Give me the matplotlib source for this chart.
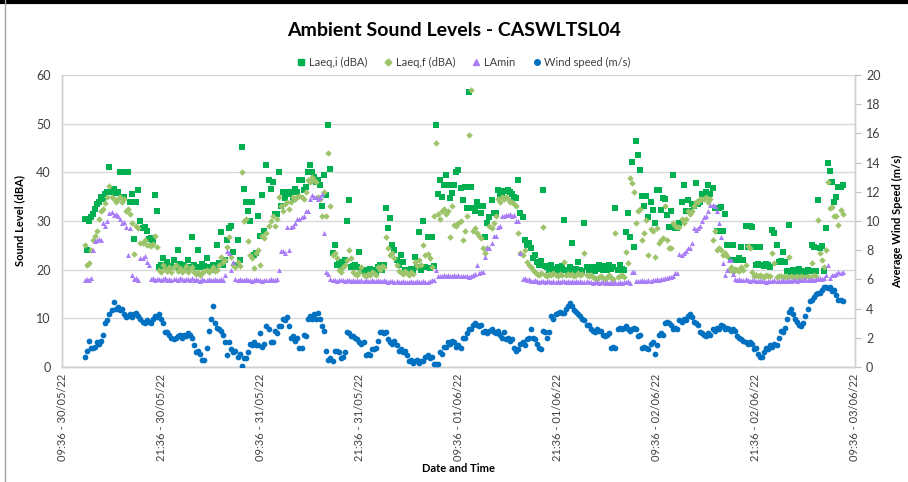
import matplotlib
matplotlib.use("Agg")
import matplotlib.pyplot as plt
from matplotlib.lines import Line2D
import numpy as np

plt.rcParams['font.family'] = ['Lato', 'DejaVu Sans']

# ---- data (15-minute samples, first sample ~12:21 30/05/22) ----
start_hours = 2.75          # hours after 09:36 30/05/22
step_hours = 0.25

laeq_i = [
    30.5, 24.0, 30.0, 30.8, 31.5, 32.5, 33.5, 34.0, 35.0, 34.5, 35.5, 36.0, 41.0, 36.0, 36.5, 35.8, 36.0, 40.0, 40.0, 35.0, 40.0, 40.0, 34.0, 35.5,
    26.4, 34.0, 36.4, 30.0, 28.5, 28.8, 28.0, 26.4, 26.5, 26.0, 35.4, 32.0, 20.5, 21.0, 22.3, 20.8, 21.5, 20.5, 20.8, 22.0, 20.6, 24.0, 21.2, 20.8,
    21.0, 20.5, 22.0, 20.6, 26.8, 21.0, 20.5, 24.0, 20.6, 21.2, 20.8, 22.3, 20.6, 20.0, 21.0, 20.5, 25.0, 21.3, 27.8, 21.0, 22.0, 26.0, 28.5, 29.0,
    23.7, 21.0, 26.0, 22.0, 45.2, 36.5, 34.0, 32.0, 30.0, 34.0, 23.0, 23.5, 31.0, 27.0, 35.4, 28.0, 41.5, 38.5, 36.5, 38.0, 31.5, 31.5, 40.0, 33.0,
    36.0, 34.7, 36.0, 35.5, 36.0, 34.5, 36.5, 36.0, 38.5, 38.5, 36.4, 37.0, 40.0, 41.5, 40.0, 39.0, 38.0, 38.5, 37.5, 33.0, 39.5, 35.4, 49.8, 40.7,
    23.4, 25.0, 21.0, 21.5, 20.5, 20.8, 22.0, 29.9, 34.3, 20.5, 20.8, 21.0, 20.5, 23.7, 20.0, 19.8, 20.0, 19.5, 20.2, 19.8, 20.0, 19.6, 20.5, 21.0,
    20.0, 21.0, 32.6, 28.5, 30.6, 25.0, 24.0, 22.0, 21.0, 23.0, 21.5, 20.0, 20.0, 19.8, 20.2, 20.0, 22.7, 20.5, 27.8, 20.0, 29.9, 20.6, 26.8, 20.4,
    26.8, 20.8, 49.8, 35.5, 38.5, 35.0, 37.5, 39.5, 37.5, 34.7, 35.7, 37.5, 40.0, 40.5, 36.7, 34.3, 37.0, 32.6, 56.6, 37.0, 32.6, 32.0, 34.0, 33.0,
    31.6, 33.0, 26.8, 29.5, 30.9, 34.3, 31.6, 31.6, 36.4, 35.3, 35.0, 36.2, 36.2, 36.4, 36.0, 35.5, 35.0, 34.8, 38.4, 31.6, 30.9, 26.1, 25.0, 25.5,
    24.5, 22.5, 23.0, 21.5, 21.0, 21.8, 36.4, 20.8, 20.5, 20.0, 21.0, 20.2, 19.8, 20.5, 20.0, 20.8, 30.2, 20.0, 19.8, 20.5, 25.4, 19.8, 20.2, 21.6,
    20.0, 19.8, 29.5, 20.5, 20.0, 20.5, 20.2, 19.8, 20.5, 21.0, 20.2, 20.0, 20.8, 20.0, 21.0, 20.2, 20.5, 32.6, 20.0, 21.0, 20.2, 20.0, 27.8, 31.6,
    26.8, 42.2, 24.7, 46.4, 43.6, 40.5, 35.2, 33.0, 35.2, 30.9, 34.0, 32.3, 29.5, 36.3, 36.3, 32.3, 34.7, 34.5, 31.3, 28.8, 32.0, 39.4, 28.6, 28.6,
    29.5, 34.0, 37.4, 32.0, 34.4, 32.0, 33.5, 33.0, 37.8, 33.5, 34.0, 35.5, 35.5, 36.0, 37.4, 35.5, 36.7, 32.6, 28.0, 32.6, 32.8, 28.0, 31.5, 25.0,
    25.0, 22.0, 25.0, 22.0, 22.0, 22.3, 24.7, 22.0, 29.0, 24.7, 29.0, 28.8, 24.7, 21.0, 21.2, 24.7, 21.0, 20.8, 21.2, 21.0, 20.6, 28.2, 27.5, 25.1,
    21.6, 21.8, 23.7, 21.5, 19.8, 29.2, 19.6, 20.0, 19.6, 19.8, 20.2, 19.5, 19.8, 19.6, 20.0, 19.7, 25.1, 24.7, 19.8, 34.3, 24.5, 24.8, 19.8, 28.5,
    41.9, 40.2, 38.0, 34.0, 35.0, 37.0, 37.0, 37.5,
]

laeq_f = [
    25.0, 21.0, 21.3, 24.0, 26.0, 27.0, 28.0, 30.5, 32.0, 32.5, 33.6, 35.0, 37.2, 35.0, 34.5, 34.0, 34.5, 35.0, 34.0, 34.5, 32.0, 32.5, 31.5, 29.5,
    23.3, 29.0, 28.5, 25.5, 25.5, 26.0, 25.0, 25.0, 24.8, 25.2, 27.0, 24.7, 20.0, 19.5, 21.0, 20.2, 19.8, 20.5, 19.5, 20.5, 21.0, 19.8, 20.3, 19.5,
    20.0, 20.8, 19.6, 20.2, 20.5, 19.6, 19.2, 19.5, 19.0, 19.3, 19.8, 20.0, 19.5, 20.0, 20.5, 19.8, 20.0, 21.0, 22.7, 21.5, 22.0, 24.7, 26.8, 22.7,
    21.0, 20.5, 21.5, 20.8, 40.0, 30.0, 30.5, 25.8, 23.0, 22.5, 20.3, 23.5, 24.0, 21.0, 27.0, 26.5, 27.5, 29.0, 30.0, 31.0, 29.0, 30.5, 35.0, 33.0,
    32.0, 33.5, 34.0, 32.5, 34.0, 35.0, 34.5, 35.0, 35.2, 35.0, 34.5, 36.0, 38.5, 38.0, 39.0, 38.5, 38.0, 35.0, 34.5, 31.0, 36.0, 31.0, 44.0, 33.0,
    23.0, 23.5, 22.5, 20.0, 19.5, 20.5, 21.0, 22.0, 24.0, 22.5, 19.5, 19.2, 19.0, 19.5, 20.5, 19.0, 18.8, 19.2, 19.0, 19.5, 19.3, 19.0, 20.5, 20.0,
    20.8, 20.5, 26.8, 24.4, 23.0, 23.5, 22.5, 21.0, 19.8, 19.5, 19.2, 19.8, 19.4, 19.0, 19.6, 19.2, 21.5, 20.8, 22.0, 21.0, 25.0, 23.0, 23.2, 22.5,
    20.5, 31.0, 46.0, 31.5, 30.5, 32.0, 32.5, 31.5, 32.0, 26.8, 33.0, 29.2, 29.0, 29.5, 30.0, 26.0, 28.0, 31.0, 47.7, 57.0, 28.0, 28.5, 27.5, 27.0,
    26.5, 24.5, 23.4, 24.5, 29.0, 28.5, 29.5, 31.0, 34.5, 34.0, 35.0, 34.5, 35.0, 34.5, 34.0, 34.0, 33.5, 33.0, 27.5, 23.5, 23.0, 24.0, 21.5, 21.0,
    20.5, 20.0, 19.5, 19.2, 19.0, 19.4, 28.8, 19.0, 18.8, 19.2, 19.0, 19.4, 19.0, 18.8, 19.2, 19.0, 21.6, 19.0, 19.2, 18.9, 19.1, 18.8, 19.0, 19.3,
    19.0, 19.2, 23.4, 19.0, 18.8, 19.0, 18.5, 18.2, 18.0, 18.5, 18.8, 18.2, 18.0, 18.4, 19.0, 18.2, 18.0, 27.5, 18.5, 18.8, 19.0, 18.5, 23.7, 21.3,
    38.8, 37.8, 36.0, 29.5, 32.0, 32.5, 26.0, 27.5, 30.2, 23.0, 28.3, 28.0, 22.7, 28.5, 25.4, 26.0, 26.5, 33.0, 26.0, 24.5, 24.5, 29.5, 29.0, 28.8,
    28.8, 30.5, 29.5, 30.5, 32.0, 31.5, 32.0, 33.0, 34.0, 34.0, 34.5, 34.5, 34.5, 35.0, 34.0, 34.5, 26.0, 28.0, 24.0, 24.5, 24.0, 23.0, 23.5, 22.8,
    20.0, 20.5, 19.5, 20.2, 20.0, 19.8, 20.5, 20.0, 21.0, 24.8, 24.5, 19.5, 18.8, 19.0, 18.6, 18.9, 18.8, 18.5, 19.0, 18.7, 18.8, 23.4, 21.3, 18.5,
    18.6, 18.8, 18.4, 18.7, 18.5, 22.7, 18.6, 18.4, 18.5, 18.7, 18.3, 18.6, 18.5, 18.4, 18.7, 18.5, 21.3, 19.0, 18.8, 30.2, 23.5, 22.0, 20.6, 24.0,
    38.1, 32.6, 32.8, 31.0, 31.0, 29.2, 32.3, 31.5,
]

la_min = [
    17.9, 18.0, 17.8, 18.2, 24.0, 25.8, 26.0, 26.2, 26.0, 29.5, 29.0, 30.0, 31.6, 31.8, 31.2, 31.5, 31.0, 30.5, 29.5, 29.8, 28.8, 23.0, 28.5, 19.0,
    18.0, 18.2, 17.9, 22.5, 22.5, 22.8, 21.5, 21.0, 18.0, 18.2, 17.9, 18.0, 18.1, 17.8, 18.0, 18.2, 17.9, 18.0, 17.8, 18.1, 18.0, 17.9, 18.2, 18.0,
    17.8, 18.0, 18.1, 17.9, 18.2, 17.8, 18.0, 17.9, 17.7, 18.0, 17.8, 17.9, 18.1, 17.8, 17.9, 18.0, 17.8, 17.9, 18.0, 17.8, 18.9, 23.8, 23.5, 20.0,
    21.5, 18.0, 17.9, 18.1, 17.8, 17.9, 18.0, 17.8, 17.9, 17.7, 17.8, 18.0, 17.9, 17.8, 17.7, 17.9, 17.8, 17.9, 18.0, 17.8, 17.8, 18.0, 20.0, 23.8,
    23.8, 23.5, 28.8, 24.0, 28.8, 29.0, 29.5, 30.5, 30.5, 30.8, 31.0, 32.0, 32.0, 34.5, 35.4, 35.0, 35.0, 34.5, 35.0, 35.5, 27.5, 19.5, 19.2, 18.0,
    17.8, 17.9, 17.7, 17.8, 17.9, 17.8, 17.6, 17.8, 17.9, 17.7, 17.8, 17.6, 17.8, 17.7, 17.9, 17.6, 17.8, 17.7, 17.6, 17.8, 17.7, 17.6, 17.8, 17.7,
    17.6, 17.8, 17.7, 17.5, 17.7, 17.6, 17.5, 17.6, 17.5, 17.4, 17.6, 17.5, 17.4, 17.5, 17.6, 17.4, 17.5, 17.6, 17.4, 17.5, 17.6, 17.5, 17.4, 17.6,
    17.8, 17.9, 20.0, 18.8, 18.6, 18.8, 19.0, 18.7, 18.9, 18.6, 18.8, 19.0, 18.7, 18.9, 18.6, 18.8, 18.6, 18.8, 18.5, 18.7, 19.0, 19.2, 21.0, 19.3,
    19.5, 19.6, 22.7, 24.5, 24.5, 25.5, 27.0, 27.0, 28.8, 29.0, 31.0, 31.0, 31.2, 31.3, 31.5, 31.0, 31.3, 30.0, 30.0, 23.4, 18.0, 18.2, 17.8, 18.0,
    17.7, 17.6, 17.8, 17.6, 17.5, 17.7, 17.6, 17.5, 17.6, 17.7, 17.5, 17.6, 17.4, 17.6, 17.5, 17.7, 17.6, 17.5, 17.6, 17.4, 17.6, 17.5, 17.7, 17.5,
    17.6, 17.5, 17.4, 17.6, 17.5, 17.4, 17.3, 17.5, 17.4, 17.3, 17.5, 17.4, 17.3, 17.4, 17.2, 17.4, 17.3, 17.5, 17.3, 17.4, 17.3, 17.5, 17.4, 17.6,
    17.3, 19.5, 19.5, 17.7, 17.6, 17.7, 17.8, 17.6, 17.7, 17.8, 17.7, 17.9, 17.8, 18.0, 17.9, 18.1, 18.0, 18.2, 18.3, 18.4, 18.5, 18.6, 19.4, 19.4,
    23.3, 23.0, 23.5, 23.8, 24.4, 24.5, 25.4, 28.5, 28.2, 28.5, 29.0, 30.0, 30.9, 31.0, 32.0, 33.2, 33.2, 33.0, 32.0, 29.5, 26.8, 21.3, 19.0, 20.0,
    22.0, 22.0, 19.2, 18.0, 17.9, 18.0, 17.8, 17.9, 18.0, 17.8, 17.7, 17.9, 17.8, 17.7, 17.6, 17.8, 17.7, 17.6, 17.5, 17.7, 17.6, 17.7, 17.8, 17.6,
    17.7, 17.6, 17.8, 17.7, 17.6, 17.8, 17.7, 17.9, 17.8, 17.7, 17.9, 17.8, 17.9, 18.0, 17.8, 17.9, 18.0, 17.9, 18.1, 18.0, 18.2, 18.1, 18.3, 18.9,
    21.0, 18.2, 19.0, 19.0, 19.2, 19.5, 19.3, 19.6,
]

wind = [
    0.7, 1.1, 1.8, 1.3, 1.3, 1.4, 1.7, 1.6, 1.8, 2.2, 3.0, 3.2, 3.6, 3.9, 4.45, 4.0, 4.1, 3.9, 4.0, 3.6, 3.4, 3.5, 3.6, 3.4,
    3.6, 3.7, 3.5, 3.3, 3.1, 3.0, 3.2, 3.1, 3.0, 3.3, 3.5, 3.4, 3.6, 3.3, 3.0, 2.4, 2.4, 2.2, 2.0, 1.9, 2.0, 2.1, 2.2, 2.0,
    2.2, 2.1, 2.3, 2.2, 2.0, 1.5, 1.0, 1.1, 0.9, 0.5, 0.5, 1.3, 2.5, 3.3, 4.2, 3.0, 2.7, 2.6, 2.5, 2.2, 1.7, 0.8, 1.7, 1.2,
    1.0, 1.1, 0.7, 0.9, 0.1, 0.6, 0.6, 1.0, 1.6, 1.5, 1.7, 1.5, 1.5, 2.3, 1.4, 1.6, 2.8, 2.6, 1.7, 1.7, 2.5, 2.3, 2.8, 2.8,
    3.3, 3.2, 3.4, 2.8, 2.0, 2.1, 1.8, 2.0, 1.3, 1.3, 2.2, 2.1, 3.3, 3.5, 3.3, 3.6, 3.3, 3.7, 3.3, 2.8, 2.5, 1.1, 0.5, 0.6,
    0.4, 1.1, 1.1, 1.0, 0.6, 0.7, 1.0, 2.4, 2.3, 2.1, 2.1, 2.0, 1.9, 1.7, 1.6, 1.7, 0.8, 0.9, 0.8, 1.2, 1.2, 1.3, 1.8, 2.4,
    2.4, 2.3, 2.4, 1.9, 1.7, 1.6, 1.8, 1.5, 1.1, 1.2, 1.0, 1.1, 0.8, 0.4, 0.5, 0.3, 0.4, 0.5, 0.3, 0.4, 0.4, 0.7, 0.8, 0.6,
    0.7, 0.2, 0.2, 0.2, 1.0, 0.9, 1.4, 1.4, 1.7, 1.6, 1.8, 1.7, 1.4, 1.5, 1.3, 2.0, 2.0, 2.3, 2.6, 2.6, 2.9, 3.0, 2.9, 2.8,
    2.9, 2.4, 2.5, 2.3, 2.5, 2.6, 2.4, 2.3, 2.5, 2.2, 2.0, 2.4, 1.9, 2.0, 1.8, 1.9, 1.3, 1.1, 1.2, 1.6, 1.7, 1.5, 1.9, 2.0,
    2.6, 2.0, 1.9, 1.6, 1.3, 1.2, 2.5, 2.4, 2.0, 2.4, 3.5, 3.3, 3.6, 3.7, 3.8, 3.7, 3.7, 4.0, 4.2, 4.4, 4.2, 3.9, 3.8, 3.6,
    3.5, 3.3, 3.2, 2.9, 2.9, 2.6, 2.5, 2.4, 2.6, 2.5, 2.5, 2.2, 2.1, 2.2, 2.3, 1.3, 1.4, 1.3, 2.6, 2.7, 2.6, 2.7, 2.8, 2.6,
    2.5, 2.6, 2.7, 2.6, 2.1, 2.2, 1.3, 1.4, 1.3, 1.2, 1.6, 1.7, 0.9, 1.5, 2.2, 2.3, 2.2, 3.0, 3.1, 3.0, 2.9, 2.6, 2.7, 2.6,
    3.2, 3.1, 3.3, 3.2, 3.5, 3.6, 3.4, 3.1, 3.0, 2.9, 2.4, 2.3, 2.2, 2.1, 2.3, 2.2, 2.6, 2.5, 2.7, 2.6, 2.9, 2.8, 2.6, 2.7,
    2.6, 2.5, 2.6, 2.5, 2.1, 2.0, 1.9, 1.8, 1.7, 1.6, 1.7, 1.6, 1.2, 1.3, 0.9, 0.7, 0.7, 1.0, 1.3, 1.2, 1.5, 1.4, 1.6, 1.5,
    2.0, 2.5, 2.4, 2.7, 3.3, 3.8, 4.0, 3.6, 3.3, 3.1, 2.9, 2.8, 3.0, 3.5, 4.0, 4.5, 4.6, 4.8, 5.0, 5.1, 5.1, 5.3, 5.5, 5.5,
    5.4, 5.5, 5.2, 5.3, 4.9, 4.6, 4.6, 4.5,
]

tick_labels = [
    "09:36 - 30/05/22", "21:36 - 30/05/22", "09:36 - 31/05/22", "21:36 - 31/05/22",
    "09:36 - 01/06/22", "21:36 - 01/06/22", "09:36 - 02/06/22", "21:36 - 02/06/22",
    "09:36 - 03/06/22",
]
tick_hours = [0, 12, 24, 36, 48, 60, 72, 84, 96]


def times(series):
    return start_hours + step_hours * np.arange(len(series))


fig = plt.figure(figsize=(9.08, 4.82), dpi=100)
ax = fig.add_axes([62 / 908, 1 - 367 / 482, (855 - 62) / 908, (367 - 75) / 482])
ax2 = ax.twinx()

C_I = '#00B050'
C_F = '#9DC36B'
C_MIN = '#A97CF8'
C_W = '#0070C0'

ax.scatter(times(laeq_i), laeq_i, marker='s', s=13, color=C_I, linewidths=0, zorder=3)
ax.scatter(times(laeq_f), laeq_f, marker='D', s=11, color=C_F, linewidths=0, zorder=4)
ax.scatter(times(la_min), la_min, marker='^', s=13, color=C_MIN, linewidths=0, zorder=5)
ax2.scatter(times(wind), wind, marker='o', s=17, color=C_W, linewidths=0, zorder=6)

ax.set_xlim(0, 96)
ax.set_ylim(0, 60)
ax.set_yticks(range(0, 61, 10))
ax2.set_ylim(0, 20)
ax2.set_yticks(range(0, 21, 2))

ax.set_xticks(tick_hours)
ax.set_xticklabels(tick_labels, rotation=90, fontsize=8, color='#404040')
ax.tick_params(axis='x', length=0, pad=5)
ax.tick_params(axis='y', length=0, labelsize=9, colors='#404040', pad=8)
ax2.tick_params(axis='y', length=4, direction='out', color='#BFBFBF', labelsize=9,
                labelcolor='#404040', pad=4)

ax.grid(axis='y', color='#D9D9D9', linewidth=1)
ax.set_axisbelow(True)
for a in (ax, ax2):
    a.spines['top'].set_visible(False)
    for sp in ('left', 'right', 'bottom'):
        a.spines[sp].set_color('#D0D0D0')
        a.spines[sp].set_linewidth(1)

ax.set_ylabel('Sound Level (dBA)', fontsize=8, fontweight='bold', color='#000000', labelpad=8)
ax2.set_ylabel('Average Wind Speed (m/s)', fontsize=8, fontweight='bold', color='#000000', labelpad=8)
ax.set_xlabel('Date and Time', fontsize=8, fontweight='bold', labelpad=1)

fig.text(0.5, 1 - 30 / 482, 'Ambient Sound Levels - CASWLTSL04', ha='center', va='center',
         fontsize=14, fontweight='bold', color='#000000')

handles = [
    Line2D([], [], marker='s', linestyle='', color=C_I, markersize=4),
    Line2D([], [], marker='D', linestyle='', color=C_F, markersize=3.5),
    Line2D([], [], marker='^', linestyle='', color=C_MIN, markersize=4),
    Line2D([], [], marker='o', linestyle='', color=C_W, markersize=4),
]
labels = ['Laeq,i (dBA)', 'Laeq,f (dBA)', 'LAmin', 'Wind speed (m/s)']
fig.legend(handles, labels, loc='center', bbox_to_anchor=(463 / 908, 1 - 62 / 482), ncol=4,
           frameon=False, fontsize=8, handletextpad=0.2, columnspacing=1.4, handlelength=1.0,
           labelcolor='#404040')

# outer frame of the chart area
fig.add_artist(Line2D([0, 1], [1 - 1.5 / 482, 1 - 1.5 / 482], color='black', linewidth=3))
fig.add_artist(Line2D([4.5 / 908, 4.5 / 908], [0, 1], color='#A6A6A6', linewidth=1))

fig.savefig('out.png', dpi=100)
